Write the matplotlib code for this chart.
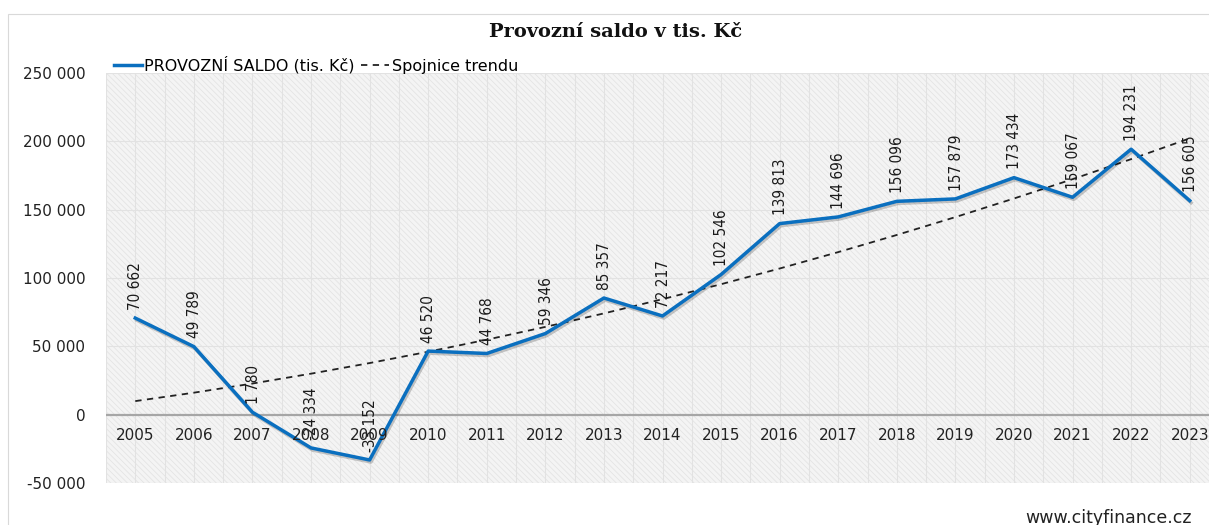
import matplotlib
matplotlib.use("Agg")
import matplotlib.pyplot as plt
import numpy as np
from matplotlib.patches import Rectangle
import matplotlib.patheffects as pe
from matplotlib.ticker import FuncFormatter
from matplotlib import font_manager

years = [2005, 2006, 2007, 2008, 2009, 2010, 2011, 2012, 2013, 2014,
         2015, 2016, 2017, 2018, 2019, 2020, 2021, 2022, 2023]
saldo = [70662, 49789, 1780, -24334, -33152, 46520, 44768, 59346, 85357, 72217,
         102546, 139813, 144696, 156096, 157879, 173434, 159067, 194231, 156605]
yticks = [-50000, 0, 50000, 100000, 150000, 200000, 250000]

title = "Provozní saldo v tis. Kč"
series_name = "PROVOZNÍ SALDO (tis. Kč)"
trend_name = "Spojnice trendu"
source = "www.cityfinance.cz"


def fmt(v):
    s = f"{abs(int(v)):,}".replace(",", " ")
    return ("-" if v < 0 else "") + s


# look for a condensed/narrow sans font for the rotated data labels
lab_prop = font_manager.FontProperties(family='Liberation Sans', size=10.5)
for f in font_manager.fontManager.ttflist:
    nm = (f.name + " " + str(f.stretch) + " " + f.fname).lower()
    if ('narrow' in nm or 'condensed' in nm) and f.style == 'normal' and f.weight in (400, 'normal', 'regular'):
        lab_prop = font_manager.FontProperties(fname=f.fname, size=11)
        break

W, H = 1209, 525
fig = plt.figure(figsize=(W / 100, H / 100), dpi=100)
plt.rcParams['hatch.linewidth'] = 0.6

# outer frame
fig.patches.append(Rectangle((8 / W, -0.05), 1.2, 1 - 14 / H + 0.05, transform=fig.transFigure,
                             fill=False, edgecolor='#d9d9d9', lw=0.8))

left, right, top, bottom = 106, 1219, 73, 483
ax = fig.add_axes([left / W, 1 - bottom / H, (right - left) / W, (bottom - top) / H])

x = np.arange(len(years))
ax.set_xlim(-0.5, len(years) - 0.5)
ax.set_ylim(-50000, 250000)

# background pattern
ax.set_facecolor('#f4f4f4')
ax.add_patch(Rectangle((0, 0), 1, 1, transform=ax.transAxes, facecolor='none',
                       hatch='\\\\\\\\\\\\', edgecolor='#e4e4e4', lw=0, zorder=0))

for s in ax.spines.values():
    s.set_visible(False)

# grid
for yv in yticks:
    if yv != 0:
        ax.axhline(yv, color='#e2e2e2', lw=0.8, zorder=1)
for xv in np.arange(-0.5, len(years), 0.5):
    ax.axvline(xv, color='#e2e2e2', lw=0.8, zorder=1)
ax.axhline(0, color='#a6a6a6', lw=1.6, zorder=2)

# trend (polynomial order 2)
coef = np.polyfit(x, saldo, 2)
trend = np.polyval(coef, x)
ax.plot(x, trend, color='#222222', lw=1.3, ls=(0, (3.5, 3)), zorder=3)

ax.plot(x, saldo, color='#0a6fbf', lw=2.5, zorder=4,
        path_effects=[pe.SimpleLineShadow(offset=(1, -1.5), alpha=0.2), pe.Normal()])

for xi, v in zip(x, saldo):
    ax.annotate(fmt(v), (xi, v), xytext=(0.5, 6), textcoords='offset points',
                rotation=90, ha='center', va='bottom', fontproperties=lab_prop,
                color='#1a1a1a', zorder=5)

# x labels inside plot under zero line
ax.set_xticks([])
for xi, yr in zip(x, years):
    ax.text(xi, -15500, str(yr), ha='center', va='center',
            fontsize=11, family='DejaVu Sans', color='#222222', zorder=6)

# y labels
ax.set_yticks(yticks)
ax.yaxis.set_major_formatter(FuncFormatter(lambda v, p: fmt(v)))
ax.tick_params(axis='y', length=0, pad=15, labelsize=11, labelcolor='#222222')
for lab in ax.get_yticklabels():
    lab.set_family('DejaVu Sans')

fig.text(616 / W, 1 - 32 / H, title, ha='center', va='center', fontsize=14,
         family='DejaVu Serif', fontweight='bold', color='#111111')

h1, = ax.plot([], [], color='#0a6fbf', lw=2.5)
h2, = ax.plot([], [], color='#222222', lw=1.3, ls=(0, (3.5, 3)))
fig.legend([h1, h2], [series_name, trend_name], loc='center left',
           bbox_to_anchor=(114 / W, 1 - 65 / H), ncol=2, frameon=False,
           handlelength=1.75, handletextpad=0.15, columnspacing=0.4,
           prop={'family': 'DejaVu Sans', 'size': 11.5}, borderaxespad=0, borderpad=0)

fig.text(1192 / W, 1 - 518 / H, source, ha='right', va='center', fontsize=12.5,
         family='DejaVu Sans', color='#222222')

fig.savefig('out.png', dpi=100)
